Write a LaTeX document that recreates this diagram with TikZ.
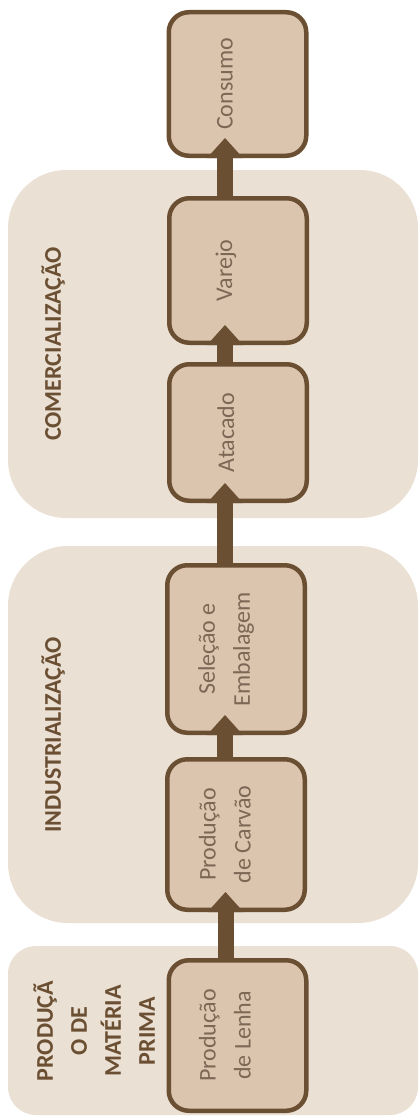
\documentclass[tikz,border=0pt]{standalone}
\usepackage{fontspec}
\setmainfont{Carlito}
\usetikzlibrary{arrows.meta}
\definecolor{panelfill}{HTML}{EBE0D4}
\definecolor{boxfill}{HTML}{DCC5AF}
\definecolor{brownline}{HTML}{6B4F33}
\definecolor{boxtext}{HTML}{7D6856}

\begin{document}
\begin{tikzpicture}[x=1pt,y=-1pt,
  stepbox/.style={draw=brownline, line width=4.5pt, fill=boxfill, rounded corners=20pt,
    minimum width=137.5pt, inner sep=0pt},
  boxlabel/.style={rotate=90, align=center, text=boxtext, inner sep=0pt,
    font=\fontsize{24}{35}\selectfont},
  grouplabel/.style={rotate=90, align=center, text=brownline, inner sep=0pt,
    font=\fontsize{24}{34}\selectfont\bfseries},
  flow/.style={draw=brownline, line width=16pt,
    -{Triangle[width=36pt,length=20pt,line width=0pt]}}
]
\useasboundingbox (0,0) rectangle (419,1116);

% stage panels
\fill[panelfill, rounded corners=28pt] (8,946) rectangle (418,1115);
\fill[panelfill, rounded corners=60pt] (8,546) rectangle (418,923);
\fill[panelfill, rounded corners=58pt] (8,170) rectangle (418,518);

% stage titles
\node[grouplabel] (tprima) at (94,1031) {PRODUÇÃ\\O DE\\MATÉRIA\\PRIMA};
\node[grouplabel] (tind) at (53,735) {INDUSTRIALIZAÇÃO};
\node[grouplabel] (tcom) at (53,344) {COMERCIALIZAÇÃO};

% process steps
\node[stepbox, minimum height=143.5pt] (consumo) at (237.5,84) {};
\node[stepbox, minimum height=144.5pt] (varejo) at (238,270.5) {};
\node[stepbox, minimum height=136.5pt] (atacado) at (238,432.5) {};
\node[stepbox, minimum height=167.5pt] (selecao) at (236,649) {};
\node[stepbox, minimum height=150.5pt] (carvao) at (236,834.5) {};
\node[stepbox, minimum height=150.5pt] (lenha) at (237.5,1035.5) {};

% step texts
\node[boxlabel] (lconsumo) at (225,84) {Consumo};
\node[boxlabel] (lvarejo) at (226,270.5) {Varejo};
\node[boxlabel] (latacado) at (226,432.5) {Atacado};
\node[boxlabel] (lselecao) at (226,649) {Seleção e\\Embalagem};
\node[boxlabel] (lcarvao) at (225,834.5) {Produção\\de Carvão};
\node[boxlabel] (llenha) at (225,1035.5) {Produção\\de Lenha};

% flow arrows
\draw[flow] ([xshift=-12pt]lenha.north) -- ([xshift=-10.5pt,yshift=20pt]carvao.south);
\draw[flow] ([xshift=-11pt]carvao.north) -- ([xshift=-11pt,yshift=20pt]selecao.south);
\draw[flow] ([xshift=-11pt]selecao.north) -- ([xshift=-13pt,yshift=20pt]atacado.south);
\draw[flow] ([xshift=-13pt]atacado.north) -- ([xshift=-13pt,yshift=20pt]varejo.south);
\draw[flow] ([xshift=-13pt]varejo.north) -- ([xshift=-12.5pt,yshift=20pt]consumo.south);
\end{tikzpicture}
\end{document}
